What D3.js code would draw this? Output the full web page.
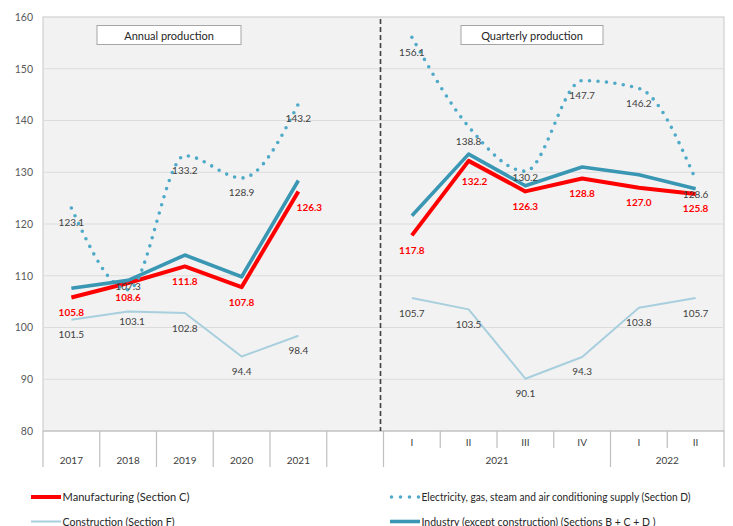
<!DOCTYPE html>
<html>
<head>
<meta charset="utf-8">
<script src="https://cdn.jsdelivr.net/npm/d3@7"></script>
<style>
  html, body { margin: 0; padding: 0; background: #fff; }
  svg { display: block; font-family: Lato, "Open Sans", sans-serif; }
</style>
</head>
<body>
<svg id="chart" width="733" height="526"></svg>
<script>
// Categories: five years, an empty slot, then six quarters
const annualYears = ["2017", "2018", "2019", "2020", "2021"];
const quarterLabels = ["I", "II", "III", "IV", "I", "II"];
const quarterYears = ["2021", "2021", "2021", "2021", "2022", "2022"];
const yTicks = [80, 90, 100, 110, 120, 130, 140, 150, 160];

// Production indices
const manufacturingAnnual = [105.8, 108.6, 111.8, 107.8, 126.3];
const manufacturingQuarterly = [117.8, 132.2, 126.3, 128.8, 127.0, 125.8];
const electricityAnnual = [123.1, 107.3, 133.2, 128.9, 143.2];
const electricityQuarterly = [156.1, 138.8, 130.2, 147.7, 146.2, 128.6];
const constructionAnnual = [101.5, 103.1, 102.8, 94.4, 98.4];
const constructionQuarterly = [105.7, 103.5, 90.1, 94.3, 103.8, 105.7];
const industryAnnual = [107.6, 109.1, 114.0, 109.8, 128.4];
const industryQuarterly = [121.6, 133.5, 127.4, 131.0, 129.5, 126.8];

const svg = d3.select("#chart");
const plot = { left: 43, right: 724, top: 17, bottom: 431 };

const nSlots = annualYears.length + 1 + quarterLabels.length;
const x = d3.scaleBand().domain(d3.range(nSlots)).range([plot.left, plot.right]);
const y = d3.scaleLinear().domain([80, 160]).range([plot.bottom, plot.top]);
const bw = x.bandwidth();
const cx = i => x(i) + bw / 2;
const qStart = annualYears.length + 1;

// plot background
svg.append("rect")
  .attr("x", plot.left).attr("y", plot.top)
  .attr("width", plot.right - plot.left).attr("height", plot.bottom - plot.top)
  .attr("fill", "#f2f2f2").attr("stroke", "#c8c8c8").attr("stroke-width", 1);

// gridlines
svg.append("g").selectAll("line").data(yTicks.slice(1, -1)).join("line")
  .attr("x1", plot.left).attr("x2", plot.right)
  .attr("y1", d => y(d)).attr("y2", d => y(d))
  .attr("stroke", "#dcdcdc").attr("stroke-width", 1);

// y axis labels
const yAxis = svg.append("g")
  .attr("transform", `translate(${plot.left},0)`)
  .call(d3.axisLeft(y).tickValues(yTicks).tickSize(0).tickPadding(10));
yAxis.select(".domain").remove();
yAxis.selectAll("text").attr("font-family", "Lato, sans-serif")
  .attr("font-size", 10.5).attr("fill", "#595959");

// category axis separators
const axisG = svg.append("g");
axisG.append("line")
  .attr("x1", plot.left).attr("x2", plot.right)
  .attr("y1", plot.bottom).attr("y2", plot.bottom)
  .attr("stroke", "#bfbfbf").attr("stroke-width", 1.2);
const boundaries = d3.range(nSlots + 1).map(i => ({
  x: i < nSlots ? x(i) : plot.right,
  long: i <= qStart || i === qStart + 4 || i === nSlots
}));
axisG.selectAll("line.sep").data(boundaries).join("line")
  .attr("class", "sep")
  .attr("x1", d => d.x).attr("x2", d => d.x)
  .attr("y1", plot.bottom).attr("y2", d => d.long ? 467 : 448)
  .attr("stroke", "#bfbfbf").attr("stroke-width", 1.2);

const tickText = { "font-size": 10, fill: "#404040", "text-anchor": "middle", "dominant-baseline": "central" };
function applyAttrs(sel, attrs) { Object.entries(attrs).forEach(([k, v]) => sel.attr(k, v)); return sel; }

applyAttrs(axisG.selectAll("text.year").data(annualYears).join("text").attr("class", "year")
  .attr("x", (d, i) => cx(i)).attr("y", 460).text(d => d), tickText);
applyAttrs(axisG.selectAll("text.q").data(quarterLabels).join("text").attr("class", "q")
  .attr("x", (d, i) => cx(qStart + i)).attr("y", 442).text(d => d), tickText);

// year groups for the quarters
const groups = d3.groups(quarterYears.map((yr, i) => ({ yr, i })), d => d.yr)
  .map(([yr, items]) => ({ yr, x0: x(qStart + items[0].i), x1: x(qStart + items[items.length - 1].i) + bw }));
applyAttrs(axisG.selectAll("text.grp").data(groups).join("text").attr("class", "grp")
  .attr("x", d => (d.x0 + d.x1) / 2).attr("y", 460).text(d => d.yr), tickText);

// dashed divider between annual and quarterly sections
svg.append("line")
  .attr("x1", x(qStart) - 3).attr("x2", x(qStart) - 3)
  .attr("y1", plot.top + 2).attr("y2", plot.bottom)
  .attr("stroke", "#404040").attr("stroke-width", 1.6).attr("stroke-dasharray", "5,3");

// section title boxes
const titles = [
  { text: "Annual production", x0: 97, x1: 241 },
  { text: "Quarterly production", x0: 461, x1: 603 }
];
const tg = svg.append("g").selectAll("g").data(titles).join("g");
tg.append("rect").attr("x", d => d.x0).attr("y", 25.5).attr("width", d => d.x1 - d.x0).attr("height", 19)
  .attr("fill", "#fff").attr("stroke", "#a6a6a6").attr("stroke-width", 1);
tg.append("text").attr("x", d => (d.x0 + d.x1) / 2).attr("y", 35.5)
  .attr("text-anchor", "middle").attr("dominant-baseline", "central")
  .attr("font-size", 11).attr("fill", "#262626").text(d => d.text);

// series
const series = [
  { name: "manufacturing", annual: manufacturingAnnual, quarterly: manufacturingQuarterly,
    color: "#ff0000", width: 4, curve: d3.curveLinear },
  { name: "electricity", annual: electricityAnnual, quarterly: electricityQuarterly,
    color: "#4eaac8", width: 3.6, curve: d3.curveMonotoneX, dash: "0,8.5" },
  { name: "construction", annual: constructionAnnual, quarterly: constructionQuarterly,
    color: "#a8cfdd", width: 2, curve: d3.curveLinear },
  { name: "industry", annual: industryAnnual, quarterly: industryQuarterly,
    color: "#3a97b4", width: 3.6, curve: d3.curveLinear }
];

const linesG = svg.append("g");
series.forEach(s => {
  const segs = [
    s.annual.map((v, i) => [cx(i), y(v)]),
    s.quarterly.map((v, i) => [cx(qStart + i), y(v)])
  ];
  segs.forEach(pts => {
    linesG.append("path")
      .attr("d", d3.line().curve(s.curve)(pts))
      .attr("fill", "none").attr("stroke", s.color).attr("stroke-width", s.width)
      .attr("stroke-linecap", s.dash ? "round" : "butt").attr("stroke-linejoin", "round")
      .attr("stroke-dasharray", s.dash || null);
  });
});

// data labels (offsets relative to the point, in pixels)
const labelDefaults = { dx: 0, dy: 14.5 };
const labelNudges = {
  "manufacturing-a-4": { dx: 11, dy: 16 },
  "manufacturing-q-1": { dx: 6, dy: 20 },
  "electricity-a-1": { dx: 0, dy: -4 },
  "electricity-q-2": { dx: 0, dy: 6 },
  "construction-a-1": { dx: 4, dy: 10 }
};
const labelled = [
  { key: "manufacturing", color: "#ff0000", weight: "bold" },
  { key: "electricity", color: "#404040", weight: "normal" },
  { key: "construction", color: "#404040", weight: "normal" }
];
const labelsG = svg.append("g");
labelled.forEach(l => {
  const s = series.find(d => d.name === l.key);
  const items = s.annual.map((v, i) => ({ v, slot: i, id: `${l.key}-a-${i}` }))
    .concat(s.quarterly.map((v, i) => ({ v, slot: qStart + i, id: `${l.key}-q-${i}` })));
  labelsG.selectAll(null).data(items).join("text")
    .attr("x", d => cx(d.slot) + (labelNudges[d.id] || labelDefaults).dx)
    .attr("y", d => y(d.v) + (labelNudges[d.id] || labelDefaults).dy)
    .attr("text-anchor", "middle").attr("dominant-baseline", "central")
    .attr("font-size", 10).attr("font-weight", l.weight).attr("fill", l.color)
    .text(d => d.v.toFixed(1));
});

// legend
const legend = [
  { s: "manufacturing", text: "Manufacturing  (Section C)", x: 31, y: 497, len: 127 },
  { s: "electricity", text: "Electricity, gas, steam and air conditioning supply  (Section D)", x: 390, y: 497, len: 269 },
  { s: "construction", text: "Construction (Section F)", x: 31, y: 521.5, len: 112 },
  { s: "industry", text: "Industry (except construction)  (Sections B + C + D )", x: 390, y: 521.5, len: 234 }
];
const lg = svg.append("g").selectAll("g").data(legend).join("g");
lg.append("line")
  .attr("x1", d => d.x + (series.find(s => s.name === d.s).dash ? 1.5 : 0))
  .attr("x2", d => d.x + 30)
  .attr("y1", d => d.y).attr("y2", d => d.y)
  .attr("stroke", d => series.find(s => s.name === d.s).color)
  .attr("stroke-width", d => series.find(s => s.name === d.s).width)
  .attr("stroke-linecap", d => series.find(s => s.name === d.s).dash ? "round" : "butt")
  .attr("stroke-dasharray", d => series.find(s => s.name === d.s).dash ? "0,9" : null);
lg.append("text")
  .attr("x", d => d.x + 31.5).attr("y", d => d.y)
  .attr("dominant-baseline", "central")
  .attr("font-size", 10.5).attr("fill", "#262626")
  .attr("textLength", d => d.len).attr("lengthAdjust", "spacingAndGlyphs")
  .text(d => d.text);
</script>
</body>
</html>
